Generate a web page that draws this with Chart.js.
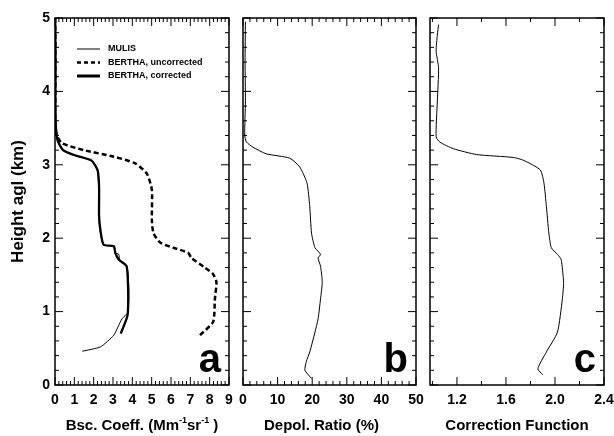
<!DOCTYPE html>
<html>
<head>
<meta charset="utf-8">
<script src="https://cdn.jsdelivr.net/npm/chart.js@4"></script>
<style>
  body { margin: 0; background: #fff; }
  #wrap { position: relative; width: 614px; height: 436px; }
  canvas { position: absolute; left: 0; top: 0; }
</style>
</head>
<body>
<div id="wrap">
  <canvas id="chartA" width="614" height="436"></canvas>
  <canvas id="chartB" width="614" height="436"></canvas>
  <canvas id="chartC" width="614" height="436"></canvas>
</div>
<script>
// panel a: backscatter coefficient (Mm-1 sr-1) vs height (km)
const mulisBsc = [[1.41,0.46],[2.35,0.52],[3.04,0.68],[3.46,0.90],[3.77,0.99],[3.82,1.31],[3.72,1.62],[3.35,1.70],[3.30,1.78],[3.10,1.80],[3.04,1.89],[2.50,1.91],[2.35,2.07],[2.26,2.30],[2.26,2.70],[2.18,2.93],[1.84,3.06],[0.98,3.13],[0.38,3.20],[0.13,3.33],[0.04,3.51],[0.01,3.87],[0.02,4.4],[0.0,5.0]];
const berthaCorr = [[3.40,0.70],[3.70,0.90],[3.77,0.99],[3.78,1.31],[3.70,1.62],[3.29,1.71],[3.12,1.80],[3.04,1.89],[2.52,1.91],[2.37,2.07],[2.28,2.30],[2.28,2.70],[2.20,2.93],[1.88,3.06],[1.02,3.13],[0.42,3.20],[0.14,3.33],[0.05,3.51],[0.02,3.87],[0.03,4.4],[0.01,5.0]];
const berthaUncorr = [[7.50,0.68],[8.18,0.86],[8.27,1.17],[8.35,1.40],[8.18,1.51],[7.75,1.60],[7.06,1.73],[6.89,1.80],[6.12,1.87],[5.44,1.94],[5.09,2.07],[5.01,2.25],[5.01,2.66],[4.75,2.88],[4.15,3.02],[3.04,3.11],[1.49,3.20],[0.38,3.29],[0.13,3.38],[0.01,3.51],[0.02,4.0],[0.01,5.0]];
// panel b: depolarisation ratio (%)
const depolRatio = [[19.8,0.09],[17.9,0.20],[18.3,0.32],[19.3,0.45],[20.8,0.72],[21.7,0.90],[22.4,1.17],[22.9,1.40],[22.4,1.62],[21.7,1.73],[22.4,1.78],[20.8,1.87],[19.8,2.07],[19.3,2.43],[18.5,2.75],[16.4,2.97],[13.5,3.09],[6.7,3.15],[2.9,3.24],[1.0,3.31],[0.5,3.40],[0.7,3.87],[0.6,4.4],[0.7,4.95]];
// panel c: correction function
const corrFunc = [[1.90,0.14],[1.86,0.22],[1.93,0.45],[2.02,0.72],[2.06,1.17],[2.07,1.40],[2.05,1.71],[2.02,1.78],[1.97,1.87],[1.95,2.07],[1.93,2.43],[1.91,2.75],[1.88,2.93],[1.745,3.06],[1.66,3.10],[1.36,3.14],[1.17,3.22],[1.06,3.31],[1.03,3.38],[1.04,3.87],[1.05,4.32],[1.03,4.55],[1.04,4.77],[1.05,4.91]];

const yTicks = [0, 1, 2, 3, 4, 5];
const xTicksA = [0, 1, 2, 3, 4, 5, 6, 7, 8, 9];
const xTicksB = [0, 10, 20, 30, 40, 50];
const xTicksC = [1.2, 1.6, 2.0, 2.4];

const FONT = '"Liberation Sans", Arial, sans-serif';

function pts(arr) { return arr.map(p => ({ x: p[0], y: p[1] })); }

function frame(opts) {
    return {
        id: 'frame',
        afterDraw(chart) {
            const ctx = chart.ctx, a = chart.chartArea;
            const xs = chart.scales.x, ys = chart.scales.y;
            ctx.save();
            ctx.strokeStyle = '#000';
            ctx.lineWidth = 1.5;
            ctx.strokeRect(a.left, a.top, a.right - a.left, a.bottom - a.top);
            ctx.lineWidth = 1;
            ctx.beginPath();
            // y ticks, both sides
            for (let v = 0; v <= 5.001; v += 0.2) {
                const y = ys.getPixelForValue(v);
                const major = Math.abs(v - Math.round(v)) < 0.01;
                const len = major ? 8 : 4;
                ctx.moveTo(a.left, y); ctx.lineTo(a.left + len, y);
                ctx.moveTo(a.right, y); ctx.lineTo(a.right - len, y);
            }
            // x ticks, top and bottom
            for (let v = opts.minorStart; v <= xs.max + 1e-6; v += opts.minor) {
                const x = xs.getPixelForValue(v);
                const major = opts.majors.some(m => Math.abs(m - v) < 1e-6);
                const len = major ? 8 : 4;
                ctx.moveTo(x, a.bottom); ctx.lineTo(x, a.bottom - len);
                ctx.moveTo(x, a.top); ctx.lineTo(x, a.top + len);
            }
            ctx.stroke();
            ctx.fillStyle = '#000';
            ctx.font = 'bold 14px ' + FONT;
            ctx.textAlign = 'center';
            ctx.textBaseline = 'top';
            opts.majors.forEach(m => {
                ctx.fillText(opts.fmt(m), xs.getPixelForValue(m), a.bottom + 8);
            });
            if (opts.yLabels) {
                ctx.textAlign = 'right';
                ctx.textBaseline = 'middle';
                yTicks.forEach(t => ctx.fillText(String(t), a.left - 5, ys.getPixelForValue(t)));
                ctx.save();
                ctx.translate(18, (a.top + a.bottom) / 2);
                ctx.rotate(-Math.PI / 2);
                ctx.textAlign = 'center';
                ctx.font = 'bold 17px ' + FONT;
                ctx.fillText('Height agl (km)', 0, 0);
                ctx.restore();
            }
            // axis title
            ctx.textAlign = 'center';
            ctx.textBaseline = 'alphabetic';
            ctx.font = 'bold 15px ' + FONT;
            opts.title(ctx, (a.left + a.right) / 2 + opts.titleShift, 430);
            // panel letter
            ctx.font = 'bold 40px ' + FONT;
            ctx.textAlign = 'right';
            ctx.fillText(opts.letter, a.right - 8, a.bottom - 13);
            if (opts.legend) {
                const rows = [['MULIS', 1, []], ['BERTHA, uncorrected', 2.5, [4, 3]], ['BERTHA, corrected', 3, []]];
                ctx.font = 'bold 9px ' + FONT;
                ctx.textAlign = 'left';
                ctx.textBaseline = 'middle';
                rows.forEach((r, i) => {
                    const y = 49 + i * 13.5;
                    ctx.lineWidth = r[1];
                    ctx.setLineDash(r[2]);
                    ctx.beginPath(); ctx.moveTo(77, y); ctx.lineTo(100, y); ctx.stroke();
                    ctx.setLineDash([]);
                    ctx.fillText(r[0], 108, y);
                });
            }
            ctx.restore();
        }
    };
}

function makeChart(id, datasets, xmin, xmax, left, right, opts) {
    return new Chart(document.getElementById(id), {
        type: 'scatter',
        data: { datasets: datasets },
        options: {
            responsive: false,
            animation: false,
            events: [],
            layout: { padding: { left: left, right: 614 - right, top: 18, bottom: 436 - 385 } },
            plugins: { legend: { display: false }, tooltip: { enabled: false } },
            elements: { point: { radius: 0 } },
            scales: {
                x: { type: 'linear', min: xmin, max: xmax, display: false },
                y: { type: 'linear', min: 0, max: 5, display: false }
            }
        },
        plugins: [frame(opts)]
    });
}

function line(data, width, dash) {
    return { data: pts(data), showLine: true, borderColor: '#000', borderWidth: width, borderDash: dash || [], tension: 0.2, fill: false };
}

makeChart('chartA', [line(mulisBsc, 1), line(berthaUncorr, 2.5, [5, 3]), line(berthaCorr, 2.3)], 0, 9, 55, 229, {
    minor: 0.2, minorStart: 0, majors: xTicksA, fmt: v => String(v), yLabels: true, letter: 'a', legend: true, titleShift: 0,
    title: (ctx, x, y) => {
        ctx.textAlign = 'left';
        const parts = [['Bsc. Coeff. (Mm', 0], ['-1', 1], ['sr', 0], ['-1', 1], [' )', 0]];
        let total = 0;
        parts.forEach(p => { ctx.font = p[1] ? 'bold 9px ' + FONT : 'bold 15px ' + FONT; total += ctx.measureText(p[0]).width; });
        let cx = x - total / 2;
        parts.forEach(p => {
            ctx.font = p[1] ? 'bold 9px ' + FONT : 'bold 15px ' + FONT;
            ctx.fillText(p[0], cx, p[1] ? y - 7 : y);
            cx += ctx.measureText(p[0]).width;
        });
    }
});
makeChart('chartB', [line(depolRatio, 1)], 0, 50, 243, 416, {
    minor: 2, minorStart: 0, majors: xTicksB, fmt: v => String(v), letter: 'b', titleShift: -8,
    title: (ctx, x, y) => ctx.fillText('Depol. Ratio (%)', x, y)
});
makeChart('chartC', [line(corrFunc, 1)], 0.98, 2.4, 430, 604, {
    minor: 0.2, minorStart: 1.0, majors: xTicksC, fmt: v => v.toFixed(1), letter: 'c', titleShift: 0,
    title: (ctx, x, y) => ctx.fillText('Correction Function', x, y)
});
</script>
</body>
</html>
